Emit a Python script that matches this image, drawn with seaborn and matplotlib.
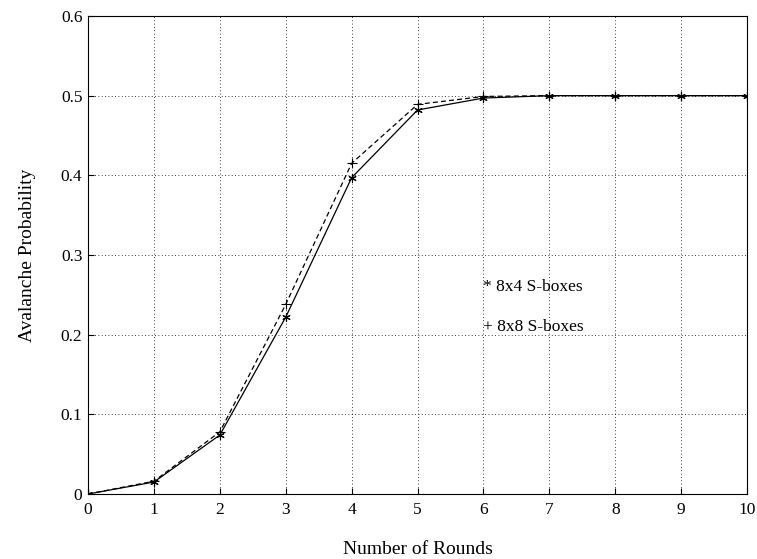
import numpy as np
import pandas as pd
import matplotlib
matplotlib.use('Agg')
import matplotlib.pyplot as plt
import seaborn as sns

# DATA
rounds = [0, 1, 2, 3, 4, 5, 6, 7, 8, 9, 10]
prob_8x4 = [0.0, 0.015, 0.074, 0.222, 0.397, 0.482, 0.497, 0.5, 0.5, 0.5, 0.5]
prob_8x8 = [0.0, 0.016, 0.078, 0.238, 0.415, 0.489, 0.499, 0.5, 0.5, 0.5, 0.5]
xticks = [0, 1, 2, 3, 4, 5, 6, 7, 8, 9, 10]
yticks = [0, 0.1, 0.2, 0.3, 0.4, 0.5, 0.6]
ytick_labels = ['0', '0.1', '0.2', '0.3', '0.4', '0.5', '0.6']

sns.set_style('white')
plt.rcParams['font.family'] = ['Liberation Serif', 'DejaVu Serif']
plt.rcParams['text.color'] = 'black'
plt.rcParams['axes.labelcolor'] = 'black'
plt.rcParams['xtick.color'] = 'black'
plt.rcParams['ytick.color'] = 'black'

fig = plt.figure(figsize=(7.57, 5.59), dpi=100)
ax = fig.add_axes([0.1163, 0.1163, 0.8705, 0.8551])

# 8x8: dashed with plus markers
sns.lineplot(x=rounds, y=prob_8x8, color='black', linestyle=(0, (4, 2.5)),
             marker='+', markersize=7, linewidth=0.9, markeredgewidth=0.8,
             markeredgecolor='black', ax=ax)
# 8x4: solid with asterisk markers
sns.lineplot(x=rounds, y=prob_8x4, color='black', linestyle='-',
             marker=(6, 2, 0), markersize=6, linewidth=0.9, markeredgewidth=0.8,
             markeredgecolor='black', ax=ax)

ax.set_xlim(0, 10)
ax.set_ylim(0, 0.6)
ax.set_xticks(xticks)
ax.set_yticks(yticks)
ax.set_yticklabels(ytick_labels)
ax.grid(True, color='black', linestyle=(0, (1, 3)), linewidth=0.6)
ax.tick_params(direction='in', length=4, width=0.8, labelsize=12.5,
               bottom=True, left=True, top=False, right=False)
ax.tick_params(axis='x', pad=6)
ax.tick_params(axis='y', pad=4)
for s in ax.spines.values():
    s.set_linewidth(0.8)
    s.set_color('black')

ax.set_xlabel('Number of Rounds', fontsize=14, labelpad=16)
ax.set_ylabel('Avalanche Probability', fontsize=14, labelpad=18)

ax.text(6.0, 0.26, '* 8x4 S-boxes', fontsize=12.5, va='center')
ax.text(6.0, 0.21, '+ 8x8 S-boxes', fontsize=12.5, va='center')

fig.savefig('out.png', dpi=100)
